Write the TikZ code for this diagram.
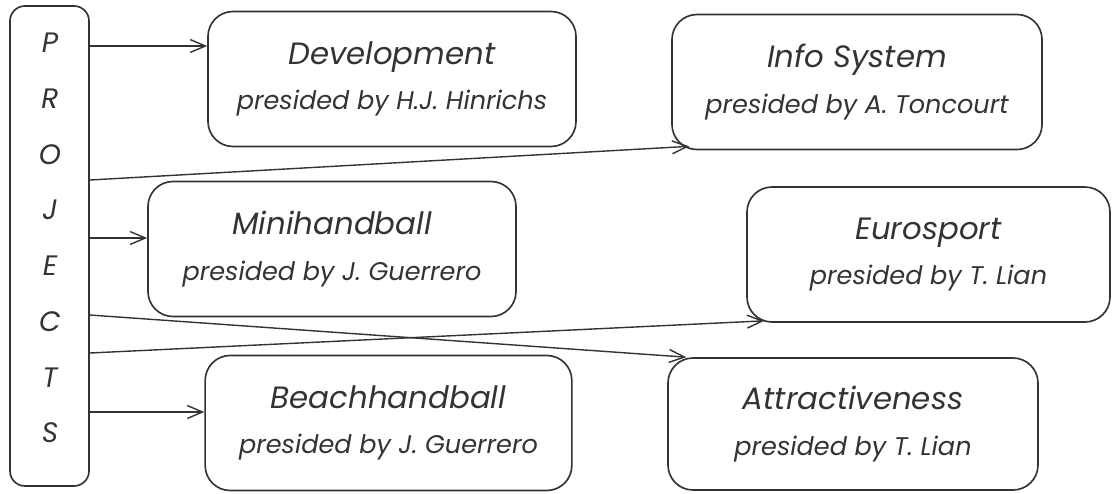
\documentclass[tikz,border=0pt]{standalone}
\usepackage{fontspec}
\setmainfont{Poppins}
\usepackage{tikz}
\usetikzlibrary{arrows.meta}
\usetikzlibrary{calc}
\definecolor{inkgray}{HTML}{333333}
\newcommand{\boxfont}{\fontsize{26.3}{39}\selectfont\itshape}
\newcommand{\subfont}{\fontsize{21.8}{39}\selectfont}

\begin{document}
\begin{tikzpicture}[x=0.03cm, y=-0.03cm,
    projbox/.style={draw=inkgray, line width=1.4pt, rounded corners=0.45cm,
        minimum width=2.37cm, minimum height=14.4cm},
    taskbox/.style={draw=inkgray, line width=1.4pt, rounded corners=0.75cm,
        minimum width=11cm, minimum height=4.05cm, align=center,
        text=inkgray, font=\boxfont},
    link/.style={draw=inkgray, line width=1.2pt,
        -{Straight Barb[length=13pt, width=11pt, line width=1.2pt]}}]

    \useasboundingbox (0,0) rectangle (1112,493);

    % projects column
    \node[projbox] (proj) at (49.5,246) {};
    \node[align=center, text=inkgray, font=\fontsize{24}{47.6}\selectfont\itshape]
        (projtext) at (50,238) {P\\R\\O\\J\\E\\C\\T\\S};

    % project boxes
    \node[taskbox, minimum width=11.04cm] (dev) at (392,79)
        {Development\\\subfont presided by H.J. Hinrichs};
    \node[taskbox, minimum width=11.1cm] (info) at (857,82)
        {Info System\\\subfont presided by A. Toncourt};
    \node[taskbox, minimum width=11.04cm] (mini) at (332,249)
        {Minihandball\\\subfont presided by J. Guerrero};
    \node[taskbox, minimum width=10.89cm] (euro) at (928.5,254.5)
        {Eurosport\\\subfont presided by T. Lian};
    \node[taskbox] (beach) at (388.5,423)
        {Beachhandball\\\subfont presided by J. Guerrero};
    \node[taskbox, minimum width=11.1cm, minimum height=3.96cm] (attr) at (853,424)
        {Attractiveness\\\subfont presided by T. Lian};

    % arrows
    \draw[link] (proj.east |- 0,46) -- (dev.west |- 0,46);
    \draw[link] (proj.east |- 0,180) -- ($(info.south west)+(18,-4)$);
    \draw[link] (proj.east |- 0,238) -- (mini.west |- 0,238);
    \draw[link] (proj.east |- 0,315) -- ($(attr.north west)+(19,0)$);
    \draw[link] (proj.east |- 0,353) -- ($(euro.south west)+(18,-2)$);
    \draw[link] (proj.east |- 0,412) -- (beach.west |- 0,412);

\end{tikzpicture}
\end{document}
